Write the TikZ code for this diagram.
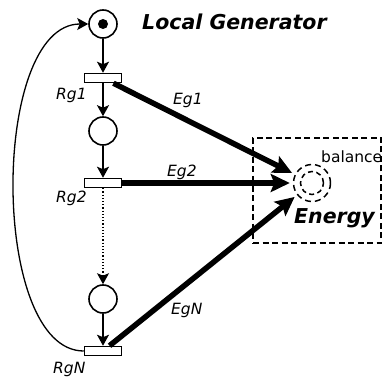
\documentclass[tikz,border=0pt]{standalone}
\usepackage{fontspec}
\setmainfont{DejaVu Sans}
\usetikzlibrary{arrows.meta}
\begin{document}
\begin{tikzpicture}[x=1pt,y=-1pt,
  place/.style={circle,draw,line width=1.6pt,minimum size=28pt,inner sep=0pt},
  trans/.style={rectangle,draw,line width=1.5pt,minimum width=37pt,minimum height=9pt,inner sep=0pt,fill=white},
  thinarrow/.style={line width=1.6pt,-{Stealth[length=11pt,width=12pt,inset=2.5pt]}},
  thickarrow/.style={line width=5.5pt,-{Stealth[length=19pt,width=18pt,inset=3.5pt]},shorten >=3pt},
  dplace/.style={circle,draw,dashed,line width=1.5pt,inner sep=0pt},
  lab/.style={font=\fontsize{15.5}{18}\selectfont\itshape,anchor=base west,inner sep=0pt},
  big/.style={font=\fontsize{20.5}{24}\selectfont\bfseries\itshape,anchor=base west,inner sep=0pt}]
\useasboundingbox (0,0) rectangle (383,377);
% energy box
\node[draw,dashed,line width=1.4pt,dash pattern=on 6pt off 3.5pt,minimum width=128pt,minimum height=105pt,inner sep=0pt] (box) at (317,190.5) {};
% places and transitions
\node[place] (p0) at (103,24) {};
\node[circle,fill,minimum size=10pt,inner sep=0pt] (tok) at (p0) {};
\node[trans] (t1) at (103,78) {};
\node[place] (p1) at (103,131) {};
\node[trans] (t2) at (103,183) {};
\node[place] (pn) at (103,299) {};
\node[trans] (tn) at (103,351) {};
\node[dplace,minimum size=37pt,dash pattern=on 6pt off 4pt] (E) at (312,183) {};
\node[dplace,minimum size=23pt,dash pattern=on 5pt off 3.5pt] (Ei) at (E) {};
% thin arcs
\draw[thinarrow] (p0) -- (t1);
\draw[thinarrow] (t1) -- (p1);
\draw[thinarrow] (p1) -- (t2);
\draw[thinarrow,line width=1.2pt,dotted] (t2) -- (pn);
\draw[thinarrow] (pn) -- (tn);
\draw[line width=1.3pt,-{Stealth[length=11pt,width=12pt,inset=2.5pt]}] (tn.west) .. controls (-10,351) and (-10,24) .. (p0.west);
% thick arcs
\draw[thickarrow] (t1) -- (E);
\draw[thickarrow] (t2) -- (E);
\draw[thickarrow] (tn) -- (E);
% labels
\node[big] (title) at (142,30) {Local Generator};
\node[lab] (lrg1) at (56,100) {Rg1};
\node[lab] (lrg2) at (56,203) {Rg2};
\node[lab] (lrgn) at (53,373) {RgN};
\node[lab] (leg1) at (173,105) {Eg1};
\node[lab] (leg2) at (167,176) {Eg2};
\node[lab] (legn) at (171,314) {EgN};
\node[lab,font=\fontsize{15.5}{18}\selectfont] (lbal) at (321,163) {balance};
\node[big] (len) at (294,223) {Energy};
\end{tikzpicture}
\end{document}
